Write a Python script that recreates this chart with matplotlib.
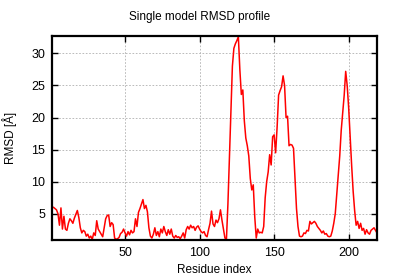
import numpy as np
import matplotlib
matplotlib.use('Agg')
import matplotlib.pyplot as plt

plt.rcParams['font.family'] = ['Liberation Sans', 'DejaVu Sans']

# RMSD per residue (Å), residues 1..219
rmsd_1_66 = [5.9, 6.0, 5.8, 5.6, 5.0, 3.2, 5.9, 2.6, 4.6, 2.6,
             2.4, 3.5, 4.2, 3.9, 3.5, 4.3, 4.9, 5.5, 4.4, 2.8,
             2.0, 2.4, 2.2, 1.5, 1.8, 1.2, 1.5, 1.0, 2.0, 1.6,
             3.9, 2.6, 2.2, 1.8, 1.4, 2.8, 4.2, 4.7, 4.8, 3.0,
             3.6, 3.3, 1.2, 1.0, 1.1, 1.3, 1.9, 2.1, 2.6, 2.0,
             1.5, 2.2, 1.7, 2.4, 2.0, 2.2, 4.2, 3.0, 5.2, 5.8,
             6.5, 7.2, 5.8, 6.3, 5.3, 2.8]
rmsd_67_118 = [1.5, 1.2, 1.8, 2.8, 1.6, 2.2, 1.4, 2.6, 2.0, 3.0,
               2.2, 1.6, 2.5, 1.8, 2.6, 1.5, 1.2, 1.6, 1.3, 1.4,
               1.1, 1.5, 2.0, 1.2, 2.5, 3.0, 2.6, 3.2, 2.8, 3.0,
               2.4, 2.9, 3.1, 2.6, 2.2, 2.0, 2.2, 1.6, 1.4, 2.5,
               3.5, 5.4, 3.4, 3.0, 4.0, 3.6, 4.2, 5.6, 4.0, 2.6,
               1.2, 1.0]
rmsd_119_167 = [6.5, 13.5, 21.0, 28.0, 30.8, 31.5, 32.0, 32.6, 27.5, 23.6,
                24.3, 19.5, 16.8, 15.6, 14.0, 10.5, 8.7, 9.5, 4.5, 1.2,
                2.6, 2.0, 2.1, 2.0, 3.0, 7.5, 10.0, 11.5, 14.2, 12.6,
                17.0, 17.3, 14.5, 18.5, 23.5, 24.2, 24.8, 26.5, 25.0, 20.0,
                20.2, 15.6, 15.8, 15.7, 15.2, 10.5, 5.8, 3.0, 1.5]
rmsd_168_219 = [1.4, 1.5, 2.0, 1.9, 2.4, 2.3, 3.8, 3.4, 3.6, 3.8,
                3.5, 3.0, 2.7, 2.4, 2.0, 2.3, 1.8, 1.9, 1.5, 1.4,
                1.5, 2.3, 3.5, 5.0, 8.0, 11.0, 14.0, 18.0, 20.7, 23.5,
                27.2, 25.0, 21.5, 17.0, 12.5, 8.5, 5.5, 3.2, 3.8, 2.7,
                3.5, 2.4, 2.7, 1.8, 2.5, 2.0, 1.8, 2.4, 2.6, 2.8,
                2.4, 2.0]

rmsd = np.array(rmsd_1_66 + rmsd_67_118 + rmsd_119_167 + rmsd_168_219)
residues = np.arange(1, len(rmsd) + 1)

x_ticks = [50, 100, 150, 200]
y_ticks = [5, 10, 15, 20, 25, 30]

fig = plt.figure(figsize=(4, 2.8), dpi=100)
ax = fig.add_axes([0.13, 0.143, 0.8125, 0.728])

ax.plot(residues, rmsd, color='#ff0000', lw=1.1)

ax.set_xlim(residues[0], residues[-1])
ax.set_ylim(rmsd.min() - 0.1, rmsd.max() + 0.1)
ax.set_xticks(x_ticks)
ax.set_yticks(y_ticks)
ax.grid(True, color='#b0b0b0', linestyle=(0, (2, 2)), lw=0.6)

ax.tick_params(direction='in', length=4, width=1, top=True, right=True,
               labelsize=9, pad=5)
for sp in ax.spines.values():
    sp.set_linewidth(1.6)

ax.set_xlabel('Residue index', fontsize=8.5, labelpad=4)
ax.set_ylabel('RMSD [Å]', fontsize=8.5, labelpad=10)
# title is centred on the whole figure, not the axes
fig.text(0.5, 0.94, 'Single model RMSD profile', fontsize=8.5,
         ha='center', va='center')

plt.savefig('out.png', dpi=100)
